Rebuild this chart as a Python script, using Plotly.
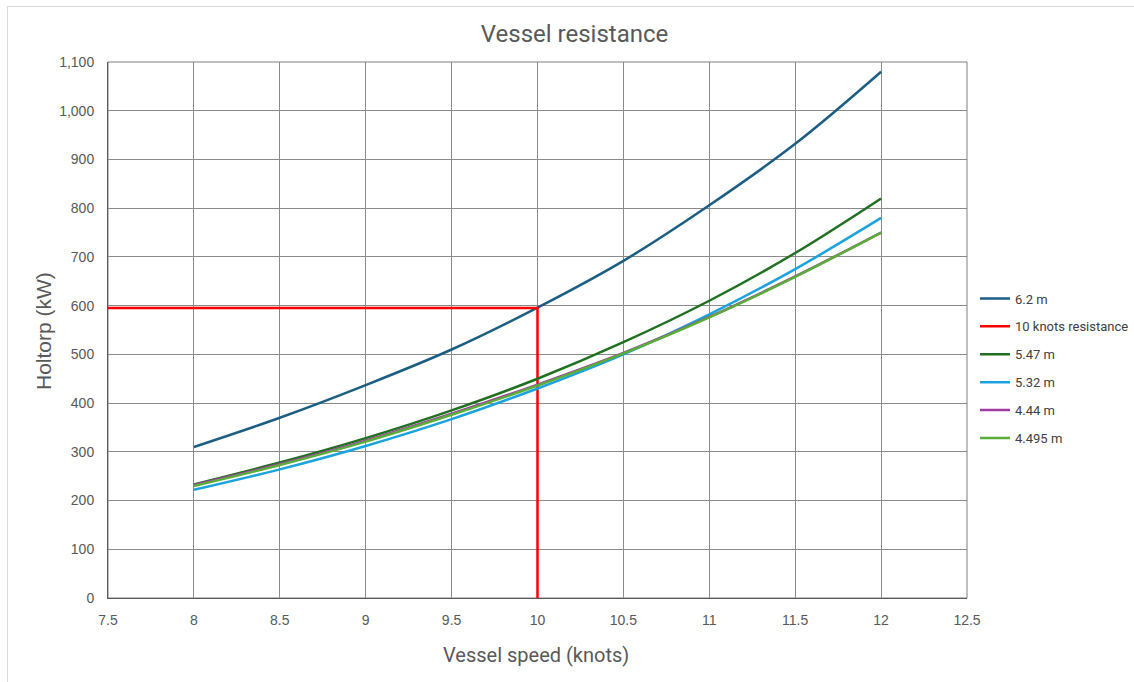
import plotly.graph_objects as go

speed = [8, 8.5, 9, 9.5, 10, 10.5, 11, 11.5, 12]
r_62 = [310, 370, 437, 510, 596, 692, 806, 932, 1080]
r_547 = [233, 278, 328, 385, 450, 525, 610, 708, 820]
r_532 = [222, 264, 312, 367, 430, 500, 582, 675, 780]
r_444 = [232, 275, 323, 378, 438, 503, 577, 660, 750]
r_4495 = [230, 273, 321, 376, 436, 502, 576, 659, 750]
ref_x = [7.5, 10, 10]
ref_y = [595, 595, 0]

W, H = 1134, 682
L, R, T, B = 108, 967, 62, 598  # plot area pixels


def px(x):
    return (x - L) / (R - L)


def py(y):
    return (B - y) / (B - T)


fig = go.Figure()
series = [
    ("6.2 m", speed, r_62, "#1b5e84", "spline"),
    ("10 knots resistance", ref_x, ref_y, "#ff0000", "linear"),
    ("5.47 m", speed, r_547, "#1f7020", "spline"),
    ("5.32 m", speed, r_532, "#1ba3dd", "spline"),
    ("4.44 m", speed, r_444, "#a03ca0", "spline"),
    ("4.495 m", speed, r_4495, "#5aad38", "spline"),
]
for name, x, y, c, shape in series:
    fig.add_trace(go.Scatter(x=x, y=y, name=name, mode="lines", legendgroup=name,
                             line=dict(color=c, width=2.5, shape=shape)))

fig.update_layout(
    width=W, height=H,
    paper_bgcolor="white", plot_bgcolor="white",
    margin=dict(l=L, r=W - R, t=T, b=H - B, autoexpand=False),
    font=dict(family="Liberation Sans, Arial, sans-serif", color="#595959"),
    title=dict(text="Vessel resistance", x=574.5 / W, xanchor="center",
               y=1 - 34 / H, yanchor="middle",
               font=dict(family="Roboto, sans-serif", size=24, color="#595959")),
    legend=dict(xref="container", yref="container", x=975 / W, xanchor="left",
                y=1 - 368.5 / H, yanchor="middle",
                font=dict(family="Roboto, sans-serif", size=13, color="#404040"),
                tracegroupgap=8, itemwidth=30, bgcolor="rgba(0,0,0,0)"),
    showlegend=True,
    annotations=[
        dict(text="Vessel speed (knots)", xref="paper", yref="paper",
             x=px(536), y=py(655), xanchor="center", yanchor="middle", showarrow=False,
             font=dict(family="Roboto, sans-serif", size=20, color="#595959")),
        dict(text="Holtorp (kW)", xref="paper", yref="paper", textangle=-90,
             x=px(43), y=py(331), xanchor="center", yanchor="middle", showarrow=False,
             font=dict(family="Liberation Sans, Arial, sans-serif", size=21, color="#595959")),
    ],
)
fig.update_xaxes(range=[7.5, 12.5], dtick=0.5, tick0=7.5, showgrid=True,
                 gridcolor="#8a8a8a", gridwidth=1, showline=True, linecolor="#595959",
                 zeroline=False, ticklabelstandoff=9,
                 tickfont=dict(size=14, color="#595959"), ticks="")
fig.update_yaxes(range=[0, 1100], dtick=100, showgrid=True, gridcolor="#8a8a8a",
                 gridwidth=1, showline=True, linecolor="#595959", zeroline=False,
                 ticklabelstandoff=10,
                 tickformat=",d", tickfont=dict(size=14, color="#595959"), ticks="")
# plot area border
fig.add_shape(type="rect", xref="paper", yref="paper", x0=0, y0=0, x1=1, y1=1,
              line=dict(color="#7f7f7f", width=1), layer="below")
# outer chart frame (top and left edges)
fig.add_shape(type="line", xref="paper", yref="paper", x0=px(7), y0=py(6.5),
              x1=px(1134), y1=py(6.5), line=dict(color="#d9d9d9", width=1))
fig.add_shape(type="line", xref="paper", yref="paper", x0=px(7.5), y0=py(6),
              x1=px(7.5), y1=py(682), line=dict(color="#d9d9d9", width=1))
fig.write_html("out.html")
